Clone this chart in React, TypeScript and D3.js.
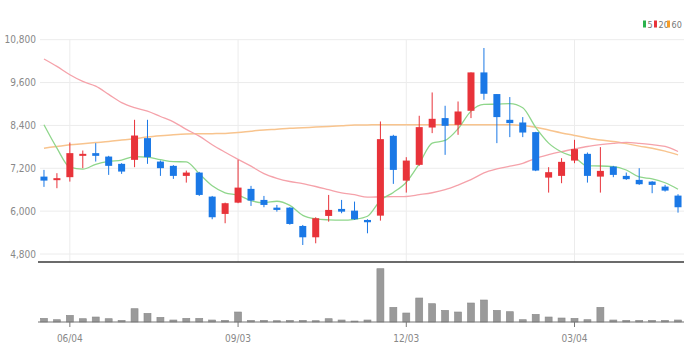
import React from "react";
import * as d3 from "d3";

const dates = [
  "05/21","05/28","06/04","06/11","06/18","06/25","07/02","07/09","07/16","07/23",
  "07/30","08/06","08/13","08/20","08/27","09/03","09/10","09/17","09/24","10/01",
  "10/08","10/15","10/22","10/29","11/05","11/12","11/19","11/26","12/03","12/10",
  "12/17","12/24","12/31","01/07","01/14","01/21","01/28","02/04","02/11","02/18",
  "02/25","03/04","03/11","03/18","03/25","04/01","04/08","04/15","04/22","04/29",
];
const opens = [6967,6900,6951,7548,7624,7528,7324,7436,8044,7388,7268,6987,7080,6407,5922,6238,6623,6314,6098,6098,5585,5268,5866,6062,6014,5753,5874,8109,6855,7296,8341,8605,8417,8810,9884,9278,8557,8482,8212,6939,6987,7416,7604,6967,7248,6987,6875,6827,6687,6435];
const highs = [7155,7063,7921,7697,7904,7548,7343,8557,8557,7416,7290,7136,7099,6426,6238,7436,6707,6426,6174,6110,5613,5829,6454,6314,6267,5773,8510,8137,7511,8670,9323,8950,9070,9884,10568,9278,9194,8633,8220,7231,7483,7997,7641,7792,7268,7080,7203,6840,6735,6474];
const lows = [6679,6642,6827,7203,7388,7015,7043,7231,7324,6987,6903,6799,6426,5773,5661,6222,6146,6109,5986,5620,5052,5100,5706,5941,5753,5380,5734,6763,6519,7268,8184,7576,8137,8605,9118,7904,8072,8072,7120,6519,6782,7343,6799,6519,6951,6875,6735,6502,6547,5958];
const closes = [6855,6923,7624,7604,7548,7268,7108,8117,7511,7203,6987,7080,6454,5829,6222,6659,6295,6174,6034,5641,5268,5801,6034,5986,5773,5689,8016,7155,7416,8352,8585,8389,8790,9884,9286,8633,8465,8201,7136,7091,7380,7736,6987,7127,7015,6895,6754,6735,6575,6109];
const volumes = [370000,230000,670000,330000,500000,330000,170000,1330000,870000,470000,200000,370000,370000,200000,170000,1000000,170000,170000,130000,170000,170000,130000,330000,200000,100000,200000,5330000,1470000,900000,2400000,1830000,1170000,1000000,1900000,2200000,1170000,1030000,230000,770000,500000,400000,370000,230000,1470000,200000,170000,170000,170000,170000,200000];
const ma5 = [8417,7764,7231,7175,7311,7393,7430,7529,7510,7441,7385,7380,7047,6711,6514,6449,6292,6236,6277,6161,5882,5784,5756,5746,5772,5857,6300,6524,6810,7326,7905,7979,8306,8800,8987,8996,9012,8894,8344,7905,7655,7509,7266,7264,7249,7152,6956,6905,6795,6614];
const ma20 = [10259,10052,9819,9631,9500,9270,9040,8900,8800,8650,8500,8290,8100,7860,7650,7450,7260,7050,6920,6830,6770,6690,6600,6510,6460,6390,6400,6407,6410,6460,6515,6600,6730,6880,7070,7180,7260,7340,7480,7580,7665,7740,7810,7860,7900,7925,7900,7860,7810,7670];
const ma60 = [7764,7810,7856,7890,7921,7950,7990,8030,8075,8110,8140,8160,8165,8170,8176,8200,8240,8275,8295,8320,8335,8355,8370,8390,8410,8415,8420,8420,8420,8420,8420,8420,8420,8420,8420,8420,8420,8400,8350,8270,8190,8120,8050,7990,7950,7890,7820,7760,7680,7576];
const yTicks = [4800, 6000, 7200, 8400, 9600, 10800];
const xTickLabels = ["06/04", "09/03", "12/03", "03/04"];
const legendItems = [
  { label: "5", color: "#2bb24c", line: "#8fd68b" },
  { label: "20", color: "#e8333a", line: "#f5a2aa" },
  { label: "60", color: "#f59d2a", line: "#f8c48e" },
];

const UP = "#e8333a";
const DOWN = "#1a78e6";
const FONT = "'Liberation Sans Narrow', 'DejaVu Sans Condensed', 'Roboto', sans-serif";

export default function App() {
  const W = 700, H = 363;
  const x = d3.scaleBand<string>().domain(dates).range([37.5, 684.5]).paddingInner(0.46).paddingOuter(0.23);
  const cx = (d: string) => (x(d) as number) + x.bandwidth() / 2;
  const y = d3.scaleLinear().domain([4800, 10800]).range([254, 39.7]);
  const yv = d3.scaleLinear().domain([0, 5400000]).range([322, 268]);
  const bw = 7;

  const mkLine = (arr: number[]) =>
    d3.line<number>().x((_, i) => cx(dates[i])).y((v) => y(v)).curve(d3.curveMonotoneX)(arr) || "";

  return (
    <svg width={W} height={H} style={{ position: "absolute", left: 0, top: 0, background: "#fff" }} fontFamily={FONT}>
      {/* horizontal grid */}
      {yTicks.map((t) => (
        <g key={t}>
          <line x1={40} x2={684} y1={y(t)} y2={y(t)} stroke="#ececec" strokeWidth={1} />
          <text x={36} y={y(t) + 3.5} textAnchor="end" fontSize={10} fill="#888">
            {d3.format(",")(t)}
          </text>
        </g>
      ))}
      {/* vertical grid */}
      {xTickLabels.map((l) => (
        <line key={l} x1={cx(l)} x2={cx(l)} y1={39.7} y2={262} stroke="#ececec" strokeWidth={1} />
      ))}
      {/* MA lines */}
      <path d={mkLine(ma60)} fill="none" stroke={legendItems[2].line} strokeWidth={1.5} />
      <path d={mkLine(ma20)} fill="none" stroke={legendItems[1].line} strokeWidth={1.3} />
      <path d={mkLine(ma5)} fill="none" stroke={legendItems[0].line} strokeWidth={1.3} />
      {/* candles */}
      {dates.map((d, i) => {
        const up = closes[i] >= opens[i];
        const col = up ? UP : DOWN;
        const top = y(Math.max(opens[i], closes[i]));
        const bot = y(Math.min(opens[i], closes[i]));
        const c = cx(d);
        return (
          <g key={d}>
            <line x1={c} x2={c} y1={y(highs[i])} y2={y(lows[i])} stroke={col} strokeWidth={1} />
            <rect x={c - bw / 2} y={top} width={bw} height={Math.max(bot - top, 2)} fill={col} />
          </g>
        );
      })}
      {/* bottom line of price panel */}
      <line x1={38} x2={684} y1={262} y2={262} stroke="#3a3a3a" strokeWidth={1.6} />
      {/* volume bars */}
      {dates.map((d, i) => {
        const c = cx(d);
        const t = yv(volumes[i]);
        return (
          <rect key={d} x={c - 3.5} y={t} width={7} height={yv(0) - t} fill="#9a9a9a" stroke="#8a8a8a" strokeWidth={0.6} />
        );
      })}
      <line x1={38} x2={684} y1={322} y2={322} stroke="#777" strokeWidth={1.2} />
      {xTickLabels.map((l) => (
        <g key={l}>
          <line x1={cx(l)} x2={cx(l)} y1={322} y2={327} stroke="#777" strokeWidth={1} />
          <text x={cx(l)} y={342} textAnchor="middle" fontSize={10} fill="#888">
            {l}
          </text>
        </g>
      ))}
      {/* legend */}
      {legendItems.map((it, i) => {
        const offs = [643, 654, 667];
        return (
          <g key={it.label}>
            <rect x={offs[i]} y={20.5} width={3} height={7} fill={it.color} />
            <text x={offs[i] + 4.5} y={27.5} fontSize={9} fill="#777">
              {it.label}
            </text>
          </g>
        );
      })}
    </svg>
  );
}
